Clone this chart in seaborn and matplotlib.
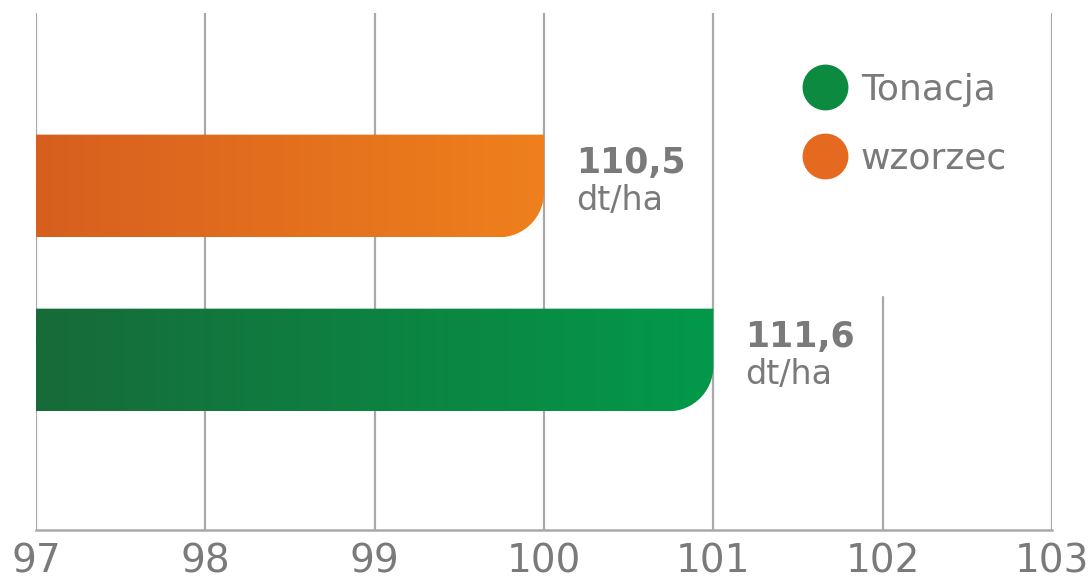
import numpy as np
import pandas as pd
import matplotlib
matplotlib.use("Agg")
import matplotlib.pyplot as plt
import seaborn as sns
from matplotlib.path import Path
from matplotlib.patches import PathPatch
from matplotlib.colors import LinearSegmentedColormap
from matplotlib.lines import Line2D

# data
categories = ["wzorzec", "Tonacja"]
values = [100.0, 101.0]
labels_big = ["110,5", "111,6"]
unit = "dt/ha"
xticks = [97, 98, 99, 100, 101, 102, 103]
legend_order = ["Tonacja", "wzorzec"]

colors = {"wzorzec": "#e5691f", "Tonacja": "#0b8a40"}
gradients = {
    "wzorzec": ["#d75f1f", "#ef801c"],
    "Tonacja": ["#176b39", "#03994a"],
}
gray_txt = "#7a7a7a"
gray_grid = "#a9a9a9"

sns.set_theme(style="white")
plt.rcParams["font.family"] = ["Liberation Sans Narrow", "DejaVu Sans"]

df = pd.DataFrame({"cat": categories, "val": values})

fig = plt.figure(figsize=(10.89, 5.84), dpi=100)
ax = fig.add_axes([36 / 1089, 54 / 584, 1016 / 1089, 517 / 584])

sns.barplot(data=df, x="val", y="cat", hue="cat", palette=colors,
            orient="h", width=0.59, legend=False, ax=ax)

xmin, xmax = 97, 103
ax.set_xlim(xmin, xmax)
ax.set_ylim(1.977, -0.994)

# pixel -> data sizes for the rounded corner
bb = ax.get_window_extent()
r_px = 45
rx = r_px * (xmax - xmin) / bb.width
ry = r_px * (1.977 + 0.994) / bb.height
k = 0.5523

for patch, cat in zip(ax.patches, categories):
    x0 = max(patch.get_x(), xmin)
    x1 = patch.get_x() + patch.get_width()
    y_top = patch.get_y()
    y_bot = y_top + patch.get_height()
    patch.set_visible(False)
    verts = [
        (x0, y_top), (x1, y_top), (x1, y_bot - ry),
        (x1, y_bot - ry + k * ry), (x1 - rx + k * rx, y_bot), (x1 - rx, y_bot),
        (x0, y_bot), (x0, y_top),
    ]
    codes = [Path.MOVETO, Path.LINETO, Path.LINETO,
             Path.CURVE4, Path.CURVE4, Path.CURVE4,
             Path.LINETO, Path.CLOSEPOLY]
    clip = PathPatch(Path(verts, codes), facecolor="none", edgecolor="none")
    ax.add_patch(clip)
    cmap = LinearSegmentedColormap.from_list(cat, gradients[cat])
    grad = np.linspace(0, 1, 256).reshape(1, -1)
    im = ax.imshow(grad, cmap=cmap, aspect="auto",
                   extent=(x0, x1, y_bot, y_top), zorder=3)
    im.set_clip_path(clip)

ax.set_xlim(xmin, xmax)
ax.set_ylim(1.977, -0.994)

# value labels
for i, (cat, v) in enumerate(zip(categories, values)):
    ax.annotate(labels_big[i], (v, i), xytext=(23, 9), textcoords="offset points",
                ha="left", va="baseline", fontsize=25, fontweight="bold",
                color=gray_txt, zorder=5)
    ax.annotate(unit, (v, i), xytext=(23, -17), textcoords="offset points",
                ha="left", va="baseline", fontsize=24, color=gray_txt, zorder=5)

# vertical grid lines
for t in xticks:
    ymax = 0.45 if t == 102 else 1.0
    ax.axvline(t, ymin=0, ymax=ymax, color=gray_grid, lw=1.6, zorder=1)

for s in ["top", "right", "left"]:
    ax.spines[s].set_visible(False)
ax.spines["bottom"].set_color(gray_grid)
ax.spines["bottom"].set_linewidth(1.8)

ax.set_xticks(xticks)
ax.set_xticklabels([str(t) for t in xticks])
ax.tick_params(axis="x", length=0, pad=9, labelsize=28, labelcolor=gray_txt)
ax.set_yticks([])
ax.set_xlabel("")
ax.set_ylabel("")

handles = [Line2D([], [], marker="o", linestyle="", markersize=32,
                  markerfacecolor=colors[c], markeredgecolor=colors[c])
           for c in legend_order]
leg = ax.legend(handles, legend_order, loc="upper left",
                bbox_to_anchor=(785 / 1089, 1 - 55 / 584),
                bbox_transform=fig.transFigure, frameon=False,
                fontsize=26, labelspacing=0.95, handletextpad=0.4,
                handlelength=1.2, borderpad=0)
for t in leg.get_texts():
    t.set_color(gray_txt)

fig.savefig("out.png", dpi=100)
